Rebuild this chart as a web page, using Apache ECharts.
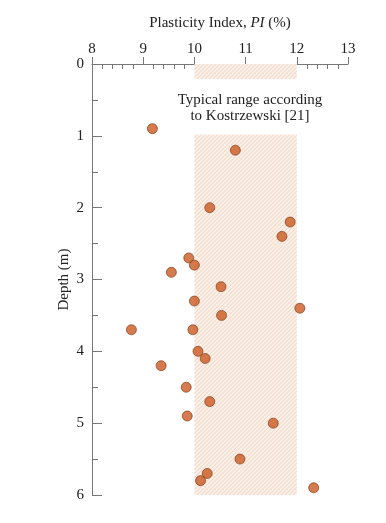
<!DOCTYPE html>
<html>
<head>
<meta charset="utf-8">
<script src="https://cdn.jsdelivr.net/npm/echarts@6/dist/echarts.min.js"></script>
<style>
  html, body { margin: 0; padding: 0; background: #fff; }
  #chart { width: 386px; height: 523px; }
</style>
</head>
<body>
<div id="chart"></div>
<script>
// plasticity index (%) vs depth (m)
const piValues = [9.18, 10.8, 10.3, 11.87, 11.71, 9.89, 10.0, 9.55, 10.52, 10.0,
  10.53, 12.06, 8.77, 9.97, 10.07, 10.21, 9.35, 9.84, 10.3, 9.86,
  11.54, 10.89, 10.25, 10.12, 12.33];
const depths = [0.9, 1.2, 2.0, 2.2, 2.4, 2.7, 2.8, 2.9, 3.1, 3.3,
  3.5, 3.4, 3.7, 3.7, 4.0, 4.1, 4.2, 4.5, 4.7, 4.9,
  5.0, 5.5, 5.7, 5.8, 5.9];
// Kostrzewski typical range, drawn as two pieces (label sits in the gap)
const rangePI = [10, 12];
const rangeDepthTop = [0, 0.21];
const rangeDepthMain = [0.98, 6];

const font = '"Liberation Serif", "DejaVu Serif", serif';
const chart = echarts.init(document.getElementById('chart'));

// fine diagonal hatching for the shaded band
const makeHatch = () => {
  const c = document.createElement('canvas');
  c.width = 4;
  c.height = 4;
  const ctx = c.getContext('2d');
  ctx.fillStyle = '#fcf3ec';
  ctx.fillRect(0, 0, 4, 4);
  ctx.strokeStyle = '#f1d8c7';
  ctx.lineWidth = 1.1;
  ctx.beginPath();
  ctx.moveTo(-1, 5);
  ctx.lineTo(5, -1);
  ctx.moveTo(-1, 1);
  ctx.lineTo(1, -1);
  ctx.moveTo(3, 5);
  ctx.lineTo(5, 3);
  ctx.stroke();
  return c;
};

const option = {
  animation: false,
  grid: { left: 92, right: 38, top: 64, bottom: 28 },
  xAxis: {
    type: 'value',
    position: 'top',
    min: 8,
    max: 13,
    interval: 1,
    name: 'Plasticity Index, {i|PI} (%)',
    nameLocation: 'middle',
    nameGap: 33,
    nameTextStyle: {
      fontFamily: font, fontSize: 15, color: '#222',
      rich: { i: { fontFamily: font, fontSize: 15, fontStyle: 'italic', color: '#222' } }
    },
    axisLine: { lineStyle: { color: '#777', width: 1 } },
    axisTick: { show: true, inside: false, length: 7, lineStyle: { color: '#777' } },
    minorTick: { show: true, splitNumber: 5, length: -5, lineStyle: { color: '#777' } },
    axisLabel: { margin: 7, fontFamily: font, fontSize: 15, color: '#222' },
    splitLine: { show: false }
  },
  yAxis: {
    type: 'value',
    inverse: true,
    min: 0,
    max: 6,
    interval: 1,
    name: 'Depth (m)',
    nameLocation: 'middle',
    nameGap: 20,
    nameMoveOverlap: false,
    nameTextStyle: { fontFamily: font, fontSize: 15, color: '#222' },
    axisLine: { lineStyle: { color: '#777', width: 1 } },
    axisTick: { show: true, inside: true, length: 10, lineStyle: { color: '#777' } },
    minorTick: { show: true, splitNumber: 2, length: 6, lineStyle: { color: '#777' } },
    axisLabel: { margin: 8, fontFamily: font, fontSize: 15, color: '#222' },
    splitLine: { show: false }
  },
  series: [{
    type: 'scatter',
    symbolSize: 10,
    itemStyle: { color: '#cb5a22', borderColor: '#7a3310', borderWidth: 0.8 },
    data: piValues.map((v, i) => [v, depths[i]]),
    z: 5,
    markArea: {
      silent: true,
      itemStyle: { color: { image: makeHatch(), repeat: 'repeat' } },
      data: [
        [{ xAxis: rangePI[0], yAxis: rangeDepthTop[0] }, { xAxis: rangePI[1], yAxis: rangeDepthTop[1] }],
        [{ xAxis: rangePI[0], yAxis: rangeDepthMain[0] }, { xAxis: rangePI[1], yAxis: rangeDepthMain[1] }]
      ]
    }
  }],
  graphic: [{
    type: 'text',
    x: 250,
    y: 92,
    style: {
      text: 'Typical range according\nto Kostrzewski [21]',
      align: 'center',
      verticalAlign: 'top',
      fontFamily: font,
      fontSize: 15,
      lineHeight: 16,
      fill: '#222'
    }
  }]
};

chart.setOption(option);
</script>
</body>
</html>
